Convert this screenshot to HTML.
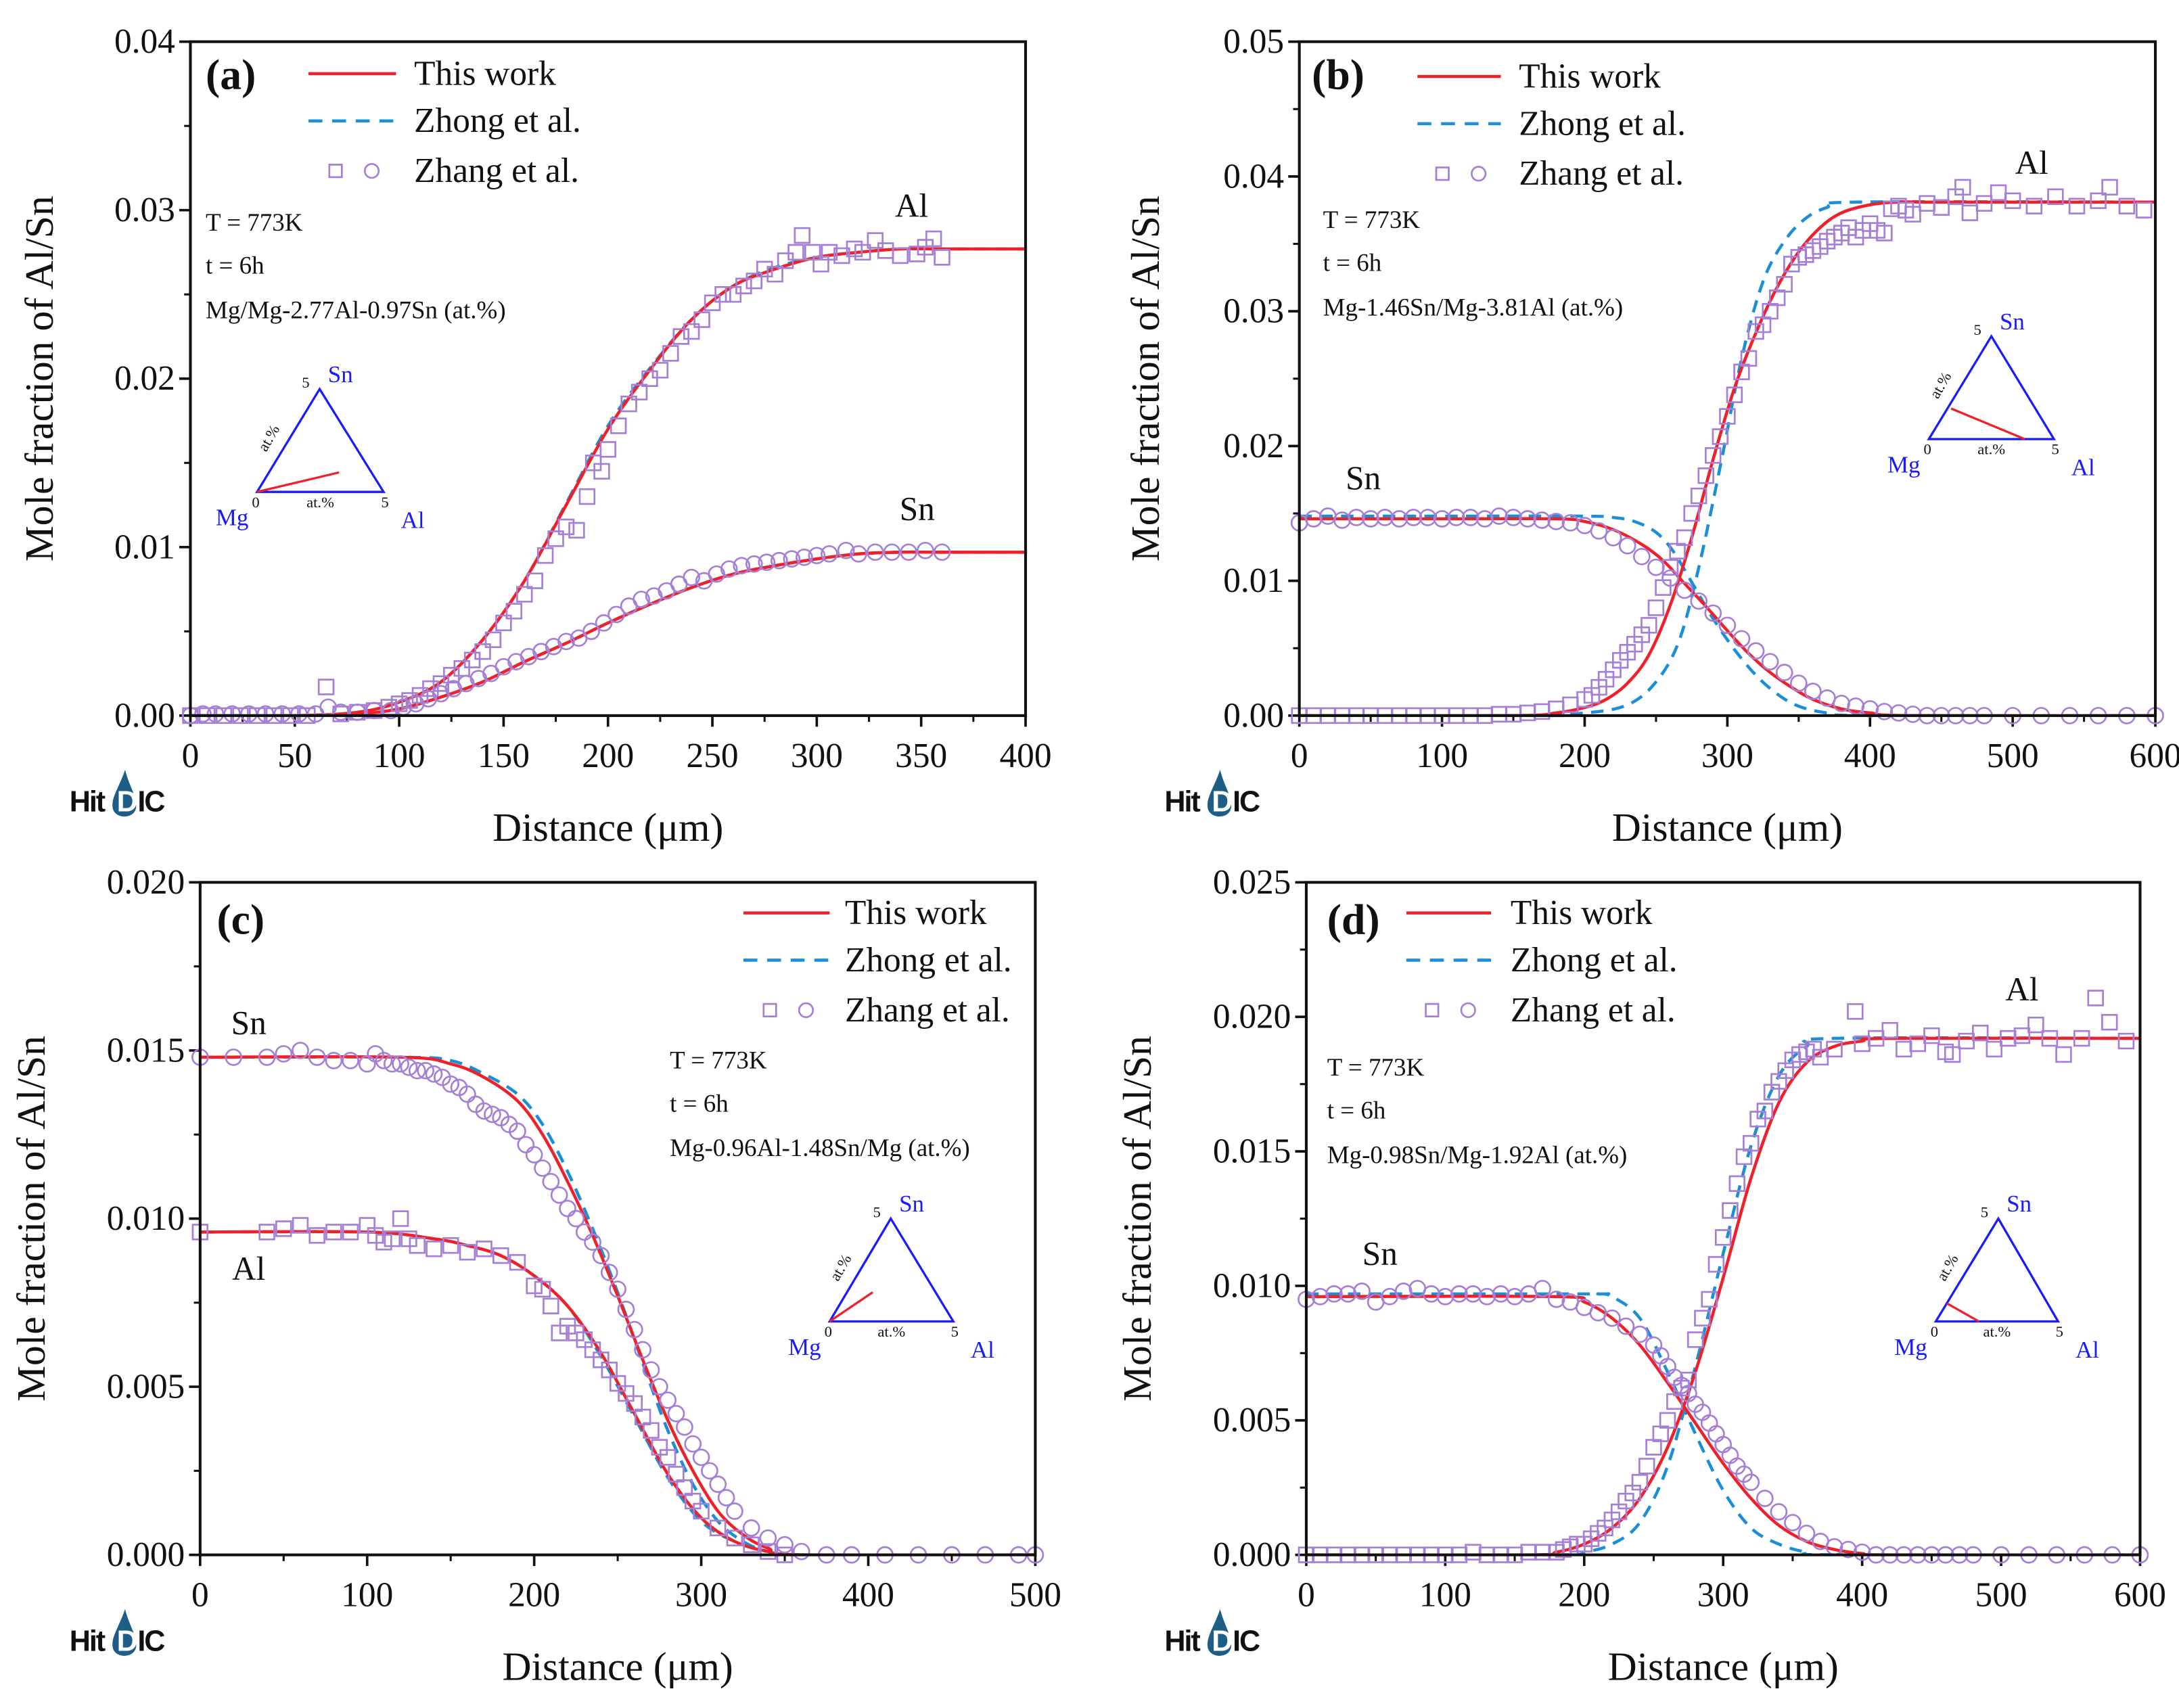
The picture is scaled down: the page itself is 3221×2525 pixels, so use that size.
<!DOCTYPE html>
<html><head><meta charset="utf-8">
<style>
html,body{margin:0;padding:0;background:#fff;}
svg{display:block;}
text{font-family:"Liberation Serif","DejaVu Serif",serif;}
</style></head>
<body>
<svg id="fig" width="3221" height="2525" viewBox="0 0 1568 1229.2" font-family="Liberation Serif, serif" xmlns="http://www.w3.org/2000/svg"></svg>
<script>
// ---------- Panel (a) data ----------
const aLineX = [0,50,80,100,120,140,160,180,200,220,240,260,280,300,320,340,360,400];
const aAlThis = [0,0,0.0002,0.0008,0.002,0.0045,0.008,0.0125,0.017,0.0205,0.0235,0.0255,0.0265,0.0272,0.0275,0.0277,0.0277,0.0277];
const aAlZhong = [0,0,0.0002,0.0008,0.002,0.0045,0.008,0.0126,0.0172,0.0206,0.0235,0.0255,0.0266,0.0272,0.0275,0.0277,0.0277,0.0277];
const aSnThis = [0,0,0.0001,0.0004,0.0011,0.002,0.0032,0.0043,0.0055,0.0066,0.0076,0.0084,0.0089,0.0093,0.0096,0.0097,0.0097,0.0097];
const aSnZhong = [0,0,0.0001,0.0004,0.0011,0.002,0.0032,0.0043,0.0055,0.0066,0.0076,0.0084,0.0089,0.0093,0.0096,0.0097,0.0097,0.0097];
const aAlPtsX = [0,8,16,24,32,40,48,56,65,72,80,88,95,100,105,110,115,120,125,130,135,140,145,150,155,160,165,170,175,180,185,190,193,197,200,205,210,215,220,225,230,235,240,245,250,255,260,265,270,275,280,285,290,293,298,302,306,312,318,322,328,333,340,348,352,356,360];
const aAlPtsY = [0,0,0,0,0,0,0,0,0.0017,0.0001,0.0002,0.0003,0.0005,0.0007,0.0009,0.0012,0.0016,0.0019,0.0024,0.0028,0.0033,0.0038,0.0045,0.0055,0.0062,0.0072,0.008,0.0095,0.0105,0.0112,0.011,0.013,0.015,0.0145,0.0158,0.0172,0.0185,0.0192,0.02,0.0205,0.0215,0.0225,0.0228,0.0235,0.0245,0.025,0.025,0.0255,0.0258,0.0265,0.0262,0.027,0.0275,0.0285,0.0275,0.0268,0.0275,0.0273,0.0277,0.0275,0.0282,0.0276,0.0273,0.0274,0.0278,0.0283,0.0272];
const aSnPtsX = [0,6,12,20,28,36,44,52,60,66,72,80,88,96,102,108,114,120,126,132,138,144,150,156,162,168,174,180,186,192,198,204,210,216,222,228,234,240,246,252,258,264,270,276,282,288,294,300,306,314,320,328,336,344,352,360];
const aSnPtsY = [0,0.0001,0.0001,0.0001,0.0001,0.0001,0.0001,0.0001,0.0001,0.0005,0.0002,0.0002,0.0003,0.0003,0.0005,0.0007,0.001,0.0013,0.0016,0.0019,0.0022,0.0025,0.0029,0.0032,0.0035,0.0038,0.0041,0.0044,0.0046,0.005,0.0055,0.006,0.0065,0.0069,0.0071,0.0074,0.0078,0.0082,0.008,0.0084,0.0087,0.0089,0.009,0.0091,0.0092,0.0093,0.0094,0.0095,0.0096,0.0098,0.0096,0.0097,0.0097,0.0097,0.0098,0.0097];
const aXTicks = [0,50,100,150,200,250,300,350,400];
const aYTicks = [0,0.01,0.02,0.03,0.04];
const aYLabels = ["0.00","0.01","0.02","0.03","0.04"];

// ---------- Panel (b) data ----------
const bSnThisX = [0,100,180,200,220,240,255,270,285,300,315,330,345,360,380,400,430,600];
const bSnThis = [0.0146,0.0146,0.0146,0.0144,0.0138,0.0127,0.0115,0.0098,0.0081,0.0063,0.0046,0.0032,0.0021,0.0012,0.0005,0.0002,0,0];
const bSnZhongX = [0,100,200,220,235,250,262,275,290,305,320,335,350,370,400,600];
const bSnZhong = [0.0148,0.0148,0.0148,0.0147,0.0144,0.0136,0.0122,0.0099,0.0072,0.0049,0.003,0.0016,0.0007,0.0002,0,0];
const bAlThisX = [0,150,180,200,215,230,245,260,275,290,305,320,335,350,365,380,400,420,450,600];
const bAlThis = [0,0,0.0002,0.0006,0.0012,0.0024,0.0045,0.0082,0.0132,0.019,0.0243,0.0284,0.0318,0.0344,0.0362,0.0373,0.0379,0.0381,0.0381,0.0381];
const bAlZhongX = [0,150,200,230,250,266,280,296,310,325,340,355,370,390,600];
const bAlZhong = [0,0,0.0002,0.0008,0.0025,0.0055,0.011,0.019,0.0265,0.0322,0.0352,0.0369,0.0377,0.0381,0.0381];
const bAlPtsX = [0,10,20,30,40,50,60,70,80,90,100,110,120,130,140,150,160,170,180,190,200,205,210,215,220,225,230,235,240,245,250,255,260,265,270,275,280,285,290,295,300,305,310,315,320,325,330,335,340,345,350,355,360,365,370,375,380,385,390,395,400,405,410,415,420,425,430,440,450,460,465,470,480,490,500,515,530,545,560,568,580,592];
const bAlPtsY = [0,0,0,0,0,0,0,0,0,0,0,0,0,0,0.0001,0.0001,0.0002,0.0003,0.0005,0.0008,0.0012,0.0015,0.0021,0.0027,0.0034,0.0041,0.0047,0.0053,0.006,0.0067,0.008,0.0095,0.011,0.0122,0.0132,0.015,0.0163,0.0178,0.0193,0.0207,0.0222,0.0238,0.0255,0.0265,0.0285,0.029,0.03,0.031,0.032,0.0335,0.034,0.0342,0.0345,0.0348,0.0352,0.0355,0.0358,0.0362,0.0355,0.036,0.0365,0.036,0.0358,0.0376,0.0378,0.0375,0.0372,0.038,0.0377,0.0385,0.0392,0.0373,0.038,0.0388,0.0382,0.0378,0.0385,0.0378,0.0382,0.0392,0.0378,0.0375];
const bSnPtsX = [0,10,20,30,40,50,60,70,80,90,100,110,120,130,140,150,160,170,180,190,200,210,220,230,240,250,260,270,280,290,300,310,320,330,340,350,360,370,380,390,400,410,420,430,440,450,460,470,480,500,520,540,560,580,600];
const bSnPtsY = [0.0143,0.0146,0.0148,0.0145,0.0147,0.0146,0.0147,0.0146,0.0147,0.0147,0.0146,0.0147,0.0147,0.0146,0.0148,0.0147,0.0146,0.0145,0.0144,0.0143,0.0141,0.0137,0.0132,0.0126,0.0118,0.011,0.0102,0.0093,0.0085,0.0076,0.0067,0.0057,0.0048,0.004,0.0032,0.0024,0.0018,0.0013,0.0009,0.0007,0.0005,0.0003,0.0002,0.0001,0,0,0,0,0,0,0,0,0,0,0];
const bXTicks = [0,100,200,300,400,500,600];
const bYTicks = [0,0.01,0.02,0.03,0.04,0.05];
const bYLabels = ["0.00","0.01","0.02","0.03","0.04","0.05"];

// ---------- Panel (c) data ----------
const cSnThisX = [0,120,150,170,190,205,220,235,250,265,280,295,310,325,340,360,500];
const cSnThis = [0.0148,0.0148,0.0146,0.0142,0.0135,0.0125,0.0111,0.0095,0.0077,0.0058,0.004,0.0025,0.0013,0.0006,0.0002,0,0];
const cSnZhongX = [0,120,150,170,190,205,220,235,250,265,280,295,310,325,340,360,500];
const cSnZhong = [0.0148,0.0148,0.0147,0.0143,0.0137,0.0128,0.0114,0.0097,0.0078,0.0057,0.0037,0.0021,0.001,0.0004,0.0001,0,0];
const cAlThisX = [0,100,140,160,180,200,220,240,260,280,300,320,340,360,500];
const cAlThis = [0.0096,0.0096,0.0094,0.0092,0.0089,0.0083,0.0074,0.006,0.0042,0.0024,0.0011,0.0004,0.0001,0,0];
const cAlZhong = [0.0096,0.0096,0.0094,0.0092,0.0089,0.0083,0.0074,0.0059,0.0041,0.0023,0.001,0.0004,0.0001,0,0];
const cSnPtsX = [0,20,40,50,60,70,80,90,100,105,110,115,120,125,130,135,140,145,150,155,160,165,170,175,180,185,190,195,200,205,210,215,220,225,230,235,240,245,250,255,260,265,270,275,280,285,290,295,300,305,310,315,320,330,340,350,360,375,390,410,430,450,470,490,500];
const cSnPtsY = [0.0148,0.0148,0.0148,0.0149,0.015,0.0148,0.0147,0.0147,0.0146,0.0149,0.0147,0.0146,0.0146,0.0145,0.0144,0.0144,0.0143,0.0142,0.014,0.0139,0.0137,0.0134,0.0132,0.0131,0.013,0.0128,0.0126,0.0122,0.0119,0.0115,0.0111,0.0107,0.0103,0.01,0.0096,0.0093,0.0089,0.0084,0.0079,0.0073,0.0067,0.0061,0.0055,0.005,0.0046,0.0042,0.0038,0.0033,0.0029,0.0025,0.0021,0.0017,0.0013,0.0008,0.0005,0.0003,0.0001,0,0,0,0,0,0,0,0];
const cAlPtsX = [0,40,50,60,70,80,90,100,105,110,115,120,125,130,140,150,160,170,180,190,200,205,210,215,220,225,230,235,240,245,250,255,260,265,270,275,280,285,290,295,300,310,320,330,340,350];
const cAlPtsY = [0.0096,0.0096,0.0097,0.0098,0.0095,0.0096,0.0096,0.0098,0.0095,0.0093,0.0094,0.01,0.0094,0.0092,0.0091,0.0092,0.009,0.0091,0.0089,0.0087,0.008,0.0079,0.0074,0.0066,0.0068,0.0066,0.0064,0.0061,0.0058,0.0055,0.0051,0.0048,0.0045,0.0041,0.0037,0.0032,0.0029,0.0024,0.002,0.0016,0.0013,0.0008,0.0005,0.0003,0.0001,0];
const cXTicks = [0,100,200,300,400,500];
const cYTicks = [0,0.005,0.01,0.015,0.02];
const cYLabels = ["0.000","0.005","0.010","0.015","0.020"];

// ---------- Panel (d) data ----------
const dSnThisX = [0,180,200,220,240,260,280,300,320,340,360,380,400,420,600];
const dSnThis = [0.0096,0.0096,0.0094,0.0088,0.0078,0.0064,0.0049,0.0034,0.0021,0.0011,0.0005,0.0002,0.00005,0,0];
const dSnZhongX = [0,200,210,220,240,260,280,300,320,340,360,380,600];
const dSnZhong = [0.0097,0.0097,0.0097,0.0096,0.0088,0.0068,0.0045,0.0024,0.001,0.0004,0.0001,0,0];
const dAlThisX = [0,160,180,200,220,240,260,280,300,320,340,360,380,400,420,600];
const dAlThis = [0,0,0.0001,0.0004,0.001,0.0021,0.004,0.0068,0.0103,0.014,0.0168,0.0183,0.0189,0.0191,0.0192,0.0192];
const dAlZhongX = [0,180,200,220,240,260,280,300,320,340,360,380,600];
const dAlZhong = [0,0,0.0001,0.0004,0.0012,0.0033,0.007,0.0112,0.0152,0.0178,0.0189,0.0192,0.0192];
const dAlPtsX = [0,10,20,30,40,50,60,70,80,90,100,110,120,130,140,150,160,170,180,185,190,195,200,205,210,215,220,225,230,235,240,245,250,255,260,265,270,275,280,285,290,295,300,305,310,315,320,325,330,335,340,345,350,355,360,365,370,380,395,400,410,420,430,440,450,460,465,475,485,495,505,515,525,535,545,558,568,578,590];
const dAlPtsY = [0,0,0,0,0,0,0,0,0,0,0,0,0.0001,0,0,0,0.0001,0.0001,0.0001,0.0002,0.0003,0.0004,0.0004,0.0006,0.0008,0.001,0.0013,0.0016,0.002,0.0023,0.0027,0.0033,0.004,0.0045,0.005,0.0057,0.0062,0.0065,0.008,0.0088,0.0095,0.0108,0.0118,0.0128,0.0138,0.0148,0.0153,0.0162,0.0165,0.0172,0.0176,0.018,0.0184,0.0186,0.0187,0.0188,0.0185,0.0188,0.0202,0.019,0.0192,0.0195,0.0188,0.019,0.0193,0.0187,0.0186,0.0191,0.0194,0.0188,0.0192,0.0193,0.0197,0.0192,0.0186,0.0192,0.0207,0.0198,0.0191];
const dSnPtsX = [0,10,20,30,40,50,60,70,80,90,100,110,120,130,140,150,160,170,180,190,200,210,220,230,240,250,255,260,265,270,275,280,285,290,295,300,305,310,315,320,330,340,350,360,370,380,390,400,410,420,430,440,450,460,470,480,500,520,540,560,580,600];
const dSnPtsY = [0.0095,0.0096,0.0097,0.0097,0.0098,0.0094,0.0096,0.0098,0.0099,0.0097,0.0096,0.0097,0.0097,0.0096,0.0097,0.0096,0.0097,0.0099,0.0095,0.0094,0.0092,0.009,0.0088,0.0085,0.0082,0.0078,0.0074,0.007,0.0066,0.0063,0.006,0.0056,0.0053,0.0049,0.0045,0.0041,0.0037,0.0033,0.003,0.0027,0.0021,0.0016,0.0012,0.0008,0.0005,0.0003,0.0002,0.0001,0,0,0,0,0,0,0,0,0,0,0,0,0,0];
const dXTicks = [0,100,200,300,400,500,600];
const dYTicks = [0,0.005,0.01,0.015,0.02,0.025];
const dYLabels = ["0.000","0.005","0.010","0.015","0.020","0.025"];

// ---------- drawing ----------
const NS = "http://www.w3.org/2000/svg";
const svg = document.getElementById('fig');
const RED = "#f0202a", BLUE = "#1a8fd8", PURP = "#a57fd6", TBLUE = "#1a1aff";
const SERIF = '"Liberation Serif", "DejaVu Serif", serif';

function mk(tag, attrs, parent) {
  const e = document.createElementNS(NS, tag);
  for (const k in attrs) e.setAttribute(k, attrs[k]);
  (parent || svg).appendChild(e);
  return e;
}
function txt(s, x, y, size, parent, anchor, extra) {
  const t = mk('text', Object.assign({x: x, y: y, 'font-size': size, 'text-anchor': anchor || 'start', fill: '#111'}, extra || {}), parent);
  t.style.fontFamily = (extra && extra.sans) ? '"Liberation Sans", sans-serif' : SERIF;
  t.removeAttribute('sans');
  t.textContent = s;
  return t;
}
function smoothPath(pts) {
  let d = "M" + pts[0][0].toFixed(2) + "," + pts[0][1].toFixed(2);
  for (let i = 0; i < pts.length - 1; i++) {
    const p0 = pts[Math.max(0, i - 1)], p1 = pts[i], p2 = pts[i + 1], p3 = pts[Math.min(pts.length - 1, i + 2)];
    const c1x = p1[0] + (p2[0] - p0[0]) / 6, c1y = p1[1] + (p2[1] - p0[1]) / 6;
    const c2x = p2[0] - (p3[0] - p1[0]) / 6, c2y = p2[1] - (p3[1] - p1[1]) / 6;
    d += " C" + c1x.toFixed(2) + "," + c1y.toFixed(2) + " " + c2x.toFixed(2) + "," + c2y.toFixed(2) + " " + p2[0].toFixed(2) + "," + p2[1].toFixed(2);
  }
  return d;
}

function panel(P) {
  const g = mk('g', {});
  
  
  const sx = v => P.x0 + (v - P.xmin) / (P.xmax - P.xmin) * (P.x1 - P.x0);
  const sy = v => P.y0 - (v - P.ymin) / (P.ymax - P.ymin) * (P.y0 - P.y1);

  const cid = 'clip' + P.id;
  const cp = mk('clipPath', {id: cid}, g);
  mk('rect', {x: P.x0, y: P.y1, width: P.x1 - P.x0, height: P.y0 - P.y1}, cp);

  const axes = mk('g', {}, g);
  
  
  P.xt.forEach((v, i) => {
    const x = sx(v);
    mk('line', {x1: x, y1: P.y0, x2: x, y2: P.y0 + 8, stroke: '#111', 'stroke-width': 1.8}, axes);
    const t = txt(String(v), x, P.y0 + 37, 25, axes, 'middle');
    
    
    if (i < P.xt.length - 1) {
      const xm = sx((v + P.xt[i + 1]) / 2);
      mk('line', {x1: xm, y1: P.y0, x2: xm, y2: P.y0 + 4.5, stroke: '#111', 'stroke-width': 1.5}, axes);
    }
  });
  P.yt.forEach((v, i) => {
    const y = sy(v);
    mk('line', {x1: P.x0, y1: y, x2: P.x0 - 8, y2: y, stroke: '#111', 'stroke-width': 1.8}, axes);
    const t = txt(P.yl[i], P.x0 - 11, y + 8, 25, axes, 'end');
    
    
    if (i < P.yt.length - 1) {
      const ym = sy((v + P.yt[i + 1]) / 2);
      mk('line', {x1: P.x0, y1: ym, x2: P.x0 - 4.5, y2: ym, stroke: '#111', 'stroke-width': 1.5}, axes);
    }
  });
  const xtitle = txt('Distance (\u03bcm)', (P.x0 + P.x1) / 2, P.y0 + 90, 29, g, 'middle');
  
  
  const ycx = P.ytx, ycy = (P.y0 + P.y1) / 2;
  const ytitle = txt('Mole fraction of Al/Sn', ycx, ycy, 29, g, 'middle', {transform: 'rotate(-90 ' + ycx + ' ' + ycy + ')'});
  
  

  const plot = mk('g', {'clip-path': 'url(#' + cid + ')'}, g);
  P.lines.forEach(L => {
    const pts = L.x.map((v, i) => [sx(v), sy(L.y[i])]);
    const p = mk('path', {d: smoothPath(pts), fill: 'none', stroke: L.dash ? BLUE : RED, 'stroke-width': 2.2, 'stroke-dasharray': L.dash ? '9,6' : 'none'}, plot);
    
    
  });
  P.pts.forEach(S => {
    const sg = mk('g', {}, g);
    
    
    S.x.forEach((v, i) => {
      const x = sx(v), y = sy(S.y[i]);
      let m;
      if (S.sq) m = mk('rect', {x: x - 5.3, y: y - 5.3, width: 10.6, height: 10.6, fill: 'none', stroke: PURP, 'stroke-width': 1.3}, sg);
      else m = mk('circle', {cx: x, cy: y, r: 5.6, fill: 'none', stroke: PURP, 'stroke-width': 1.3}, sg);
      
      
    });
  });

  const fr = mk('rect', {x: P.x0, y: P.y1, width: P.x1 - P.x0, height: P.y0 - P.y1, fill: 'none', stroke: '#111', 'stroke-width': 2}, g);
  
  

  const pl = txt('(' + P.id + ')', P.lab[0], P.lab[1], 31, g, 'start', {'font-weight': 'bold'});
  
  

  const lg = mk('g', {}, g);
  
  
  const [lx0, lx1, tx] = P.leg, ly = P.legY;
  let e = mk('line', {x1: lx0, y1: ly[0], x2: lx1, y2: ly[0], stroke: RED, 'stroke-width': 2.2}, lg);
   
  txt('This work', tx, ly[0] + 8, 25, lg);
  e = mk('line', {x1: lx0, y1: ly[1], x2: lx1, y2: ly[1], stroke: BLUE, 'stroke-width': 2.2, 'stroke-dasharray': '10,7'}, lg);
   
  txt('Zhong et al.', tx, ly[1] + 8, 25, lg);
  const mx = (lx0 + lx1) / 2;
  mk('rect', {x: mx - 12 - 4.5, y: ly[2] - 4.5, width: 9, height: 9, fill: 'none', stroke: PURP, 'stroke-width': 1.3}, lg);
  mk('circle', {cx: mx + 14, cy: ly[2], r: 5, fill: 'none', stroke: PURP, 'stroke-width': 1.3}, lg);
  txt('Zhang et al.', tx, ly[2] + 8, 25, lg);

  const an = mk('g', {}, g);
  
  
  txt('T = 773K', P.ann[0], P.ann[1], 18, an);
  txt('t = 6h', P.ann[0], P.ann[1] + 31, 18, an);
  txt(P.comp, P.ann[0], P.ann[1] + 63, 18, an);
  P.elLabels.forEach(L => {
    const t = txt(L[0], L[1], L[2], 24, g, 'middle');
    
    
  });

  const tg = mk('g', {}, g);
  
  
  const [ax, ay, mgx, mgy, alx] = P.tri;
  mk('polygon', {points: ax + ',' + ay + ' ' + mgx + ',' + mgy + ' ' + alx + ',' + mgy, fill: 'none', stroke: TBLUE, 'stroke-width': 1.6}, tg);
  mk('line', {x1: P.triLine[0], y1: P.triLine[1], x2: P.triLine[2], y2: P.triLine[3], stroke: RED, 'stroke-width': 1.6}, tg);
  txt('Sn', ax + 6, ay - 5, 17, tg, 'start', {fill: TBLUE});
  txt('Mg', mgx - 18, mgy + 24, 17, tg, 'middle', {fill: TBLUE});
  txt('Al', alx + 21, mgy + 26, 17, tg, 'middle', {fill: TBLUE});
  txt('5', ax - 10, ay - 1, 11, tg, 'middle');
  txt('0', mgx - 1, mgy + 11, 11, tg, 'middle');
  txt('5', alx + 1, mgy + 11, 11, tg, 'middle');
  txt('at.%', (mgx + alx) / 2, mgy + 11, 11, tg, 'middle');
  const lx = (ax + mgx) / 2 - 11, lyy = (ay + mgy) / 2;
  txt('at.%', lx, lyy, 11, tg, 'middle', {transform: 'rotate(-60 ' + lx + ' ' + lyy + ')'});

  const lo = mk('g', {}, g);
  
  
  const [hx, hy] = P.logo;
  mk('path', {d: 'M' + (hx + 40) + ',' + (hy - 30) + ' C' + (hx + 36) + ',' + (hy - 18) + ' ' + (hx + 30) + ',' + (hy - 10) + ' ' + (hx + 31) + ',' + (hy - 3) + ' C' + (hx + 32) + ',' + (hy + 6) + ' ' + (hx + 48) + ',' + (hy + 6) + ' ' + (hx + 48) + ',' + (hy - 4) + ' C' + (hx + 48) + ',' + (hy - 12) + ' ' + (hx + 43) + ',' + (hy - 18) + ' ' + (hx + 40) + ',' + (hy - 30) + 'Z', fill: '#1d5d86'}, lo);
  txt('Hit', hx, hy, 21, lo, 'start', {sans: 1, 'font-weight': 'bold', 'letter-spacing': '-1'});
  txt('D', hx + 34, hy, 21, lo, 'start', {sans: 1, 'font-weight': 'bold', fill: '#fff'});
  txt('IC', hx + 49, hy, 21, lo, 'start', {sans: 1, 'font-weight': 'bold', 'letter-spacing': '-1'});
}

panel({id: 'a', x0: 137, x1: 738, y0: 515, y1: 30, xmin: 0, xmax: 400, ymin: 0, ymax: 0.04,
  xt: aXTicks, yt: aYTicks, yl: aYLabels, ytx: 38,
  lines: [{x: aLineX, y: aAlZhong, dash: true, name: 'al-zhong-line'}, {x: aLineX, y: aAlThis, name: 'al-this-work-line'},
          {x: aLineX, y: aSnZhong, dash: true, name: 'sn-zhong-line'}, {x: aLineX, y: aSnThis, name: 'sn-this-work-line'}],
  pts: [{x: aAlPtsX, y: aAlPtsY, sq: true, name: 'al-zhang-points'}, {x: aSnPtsX, y: aSnPtsY, name: 'sn-zhang-points'}],
  lab: [148, 64], leg: [222, 285, 298], legY: [53, 87, 123], ann: [148, 166], comp: 'Mg/Mg-2.77Al-0.97Sn (at.%)',
  elLabels: [['Al', 656, 156], ['Sn', 660, 374]],
  tri: [230, 280, 185, 354, 276], triLine: [185, 354, 244, 340], logo: [50, 584]});

panel({id: 'b', x0: 935, x1: 1551, y0: 515, y1: 30, xmin: 0, xmax: 600, ymin: 0, ymax: 0.05,
  xt: bXTicks, yt: bYTicks, yl: bYLabels, ytx: 834,
  lines: [{x: bSnZhongX, y: bSnZhong, dash: true, name: 'sn-zhong-line'}, {x: bAlZhongX, y: bAlZhong, dash: true, name: 'al-zhong-line'},
          {x: bSnThisX, y: bSnThis, name: 'sn-this-work-line'}, {x: bAlThisX, y: bAlThis, name: 'al-this-work-line'}],
  pts: [{x: bAlPtsX, y: bAlPtsY, sq: true, name: 'al-zhang-points'}, {x: bSnPtsX, y: bSnPtsY, name: 'sn-zhang-points'}],
  lab: [944, 64], leg: [1020, 1080, 1093], legY: [55, 89, 125], ann: [952, 164], comp: 'Mg-1.46Sn/Mg-3.81Al (at.%)',
  elLabels: [['Al', 1462, 125], ['Sn', 981, 352]],
  tri: [1433, 242, 1388, 316, 1478], triLine: [1404, 294, 1457, 316], logo: [838, 584]});

panel({id: 'c', x0: 144, x1: 745, y0: 1119, y1: 635, xmin: 0, xmax: 500, ymin: 0, ymax: 0.02,
  xt: cXTicks, yt: cYTicks, yl: cYLabels, ytx: 32,
  lines: [{x: cSnZhongX, y: cSnZhong, dash: true, name: 'sn-zhong-line'}, {x: cAlThisX, y: cAlZhong, dash: true, name: 'al-zhong-line'},
          {x: cSnThisX, y: cSnThis, name: 'sn-this-work-line'}, {x: cAlThisX, y: cAlThis, name: 'al-this-work-line'}],
  pts: [{x: cAlPtsX, y: cAlPtsY, sq: true, name: 'al-zhang-points'}, {x: cSnPtsX, y: cSnPtsY, name: 'sn-zhang-points'}],
  lab: [156, 672], leg: [535, 597, 608], legY: [657, 691, 727], ann: [482, 769], comp: 'Mg-0.96Al-1.48Sn/Mg (at.%)',
  elLabels: [['Sn', 179, 744], ['Al', 179, 921]],
  tri: [641, 877, 597, 951, 686], triLine: [597, 951, 628, 930], logo: [50, 1188]});

panel({id: 'd', x0: 940, x1: 1540, y0: 1119, y1: 635, xmin: 0, xmax: 600, ymin: 0, ymax: 0.025,
  xt: dXTicks, yt: dYTicks, yl: dYLabels, ytx: 828,
  lines: [{x: dSnZhongX, y: dSnZhong, dash: true, name: 'sn-zhong-line'}, {x: dAlZhongX, y: dAlZhong, dash: true, name: 'al-zhong-line'},
          {x: dSnThisX, y: dSnThis, name: 'sn-this-work-line'}, {x: dAlThisX, y: dAlThis, name: 'al-this-work-line'}],
  pts: [{x: dAlPtsX, y: dAlPtsY, sq: true, name: 'al-zhang-points'}, {x: dSnPtsX, y: dSnPtsY, name: 'sn-zhang-points'}],
  lab: [955, 672], leg: [1012, 1073, 1087], legY: [657, 691, 727], ann: [955, 774], comp: 'Mg-0.98Sn/Mg-1.92Al (at.%)',
  elLabels: [['Al', 1455, 720], ['Sn', 993, 910]],
  tri: [1438, 877, 1393, 951, 1481], triLine: [1401, 938, 1424, 951], logo: [838, 1188]});
</script>
</body></html>
